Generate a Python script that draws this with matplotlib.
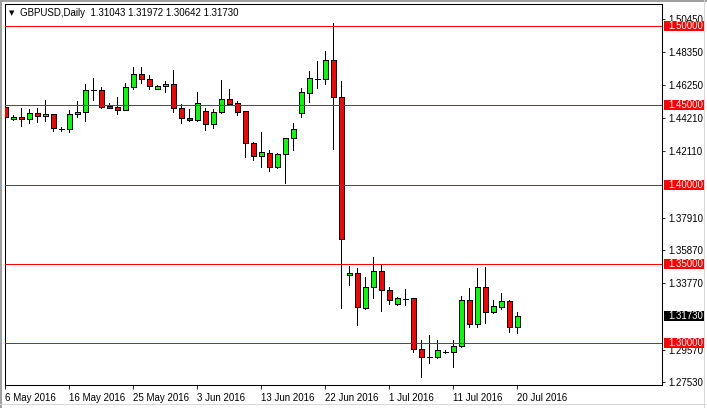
import matplotlib
matplotlib.use('Agg')
import matplotlib.pyplot as plt
from matplotlib.patches import Rectangle
import matplotlib.transforms as mtransforms
import pandas as pd

# ---------------- data ----------------
symbol_title = "GBPUSD,Daily  1.31043 1.31972 1.30642 1.31730"
# MT4 daily bars incl. Sunday bars (no Saturdays)
dates = [d for d in pd.date_range('2016-05-06', '2016-07-20') if d.weekday() != 5]

opens = [1.4489, 1.4412, 1.4424, 1.4412, 1.4450, 1.4433, 1.4445, 1.4350, 1.4351, 1.4443,
         1.4456, 1.4595, 1.4595, 1.4497, 1.4487, 1.4472, 1.4613, 1.4697, 1.4664, 1.4601,
         1.4622, 1.4634, 1.4481, 1.4420, 1.4407, 1.4462, 1.4385, 1.4455, 1.4538, 1.4513,
         1.4464, 1.4265, 1.4183, 1.4201, 1.4113, 1.4191, 1.4292, 1.4453, 1.4576, 1.4666,
         1.4664, 1.4784, 1.4555, 1.3428, 1.3441, 1.3220, 1.3352, 1.3453, 1.3335, 1.3245,
         1.3281, 1.3283, 1.2962, 1.2915, 1.2911, 1.2946, 1.2943, 1.2984, 1.3272, 1.3119,
         1.3352, 1.3195, 1.3230, 1.3266, 1.31043]
highs = [1.4544, 1.4439, 1.4481, 1.4475, 1.4485, 1.4533, 1.4448, 1.4361, 1.4470, 1.4527,
         1.4634, 1.4670, 1.4617, 1.4513, 1.4550, 1.4639, 1.4741, 1.4740, 1.4691, 1.4628,
         1.4653, 1.4723, 1.4508, 1.4478, 1.4584, 1.4481, 1.4475, 1.4660, 1.4601, 1.4525,
         1.4467, 1.4271, 1.4332, 1.4218, 1.4197, 1.4292, 1.4387, 1.4607, 1.4716, 1.4779,
         1.4842, 1.5017, 1.4653, 1.3485, 1.3472, 1.3419, 1.3542, 1.3499, 1.3352, 1.3289,
         1.3342, 1.3285, 1.3020, 1.3052, 1.3020, 1.2957, 1.3020, 1.3298, 1.3346, 1.3472,
         1.3482, 1.3272, 1.3318, 1.3272, 1.31972]
lows = [1.4412, 1.4407, 1.4371, 1.4387, 1.4393, 1.4401, 1.4340, 1.4338, 1.4330, 1.4428,
        1.4403, 1.4533, 1.4485, 1.4480, 1.4443, 1.4470, 1.4601, 1.4639, 1.4601, 1.4600,
        1.4586, 1.4460, 1.4388, 1.4398, 1.4401, 1.4346, 1.4355, 1.4450, 1.4505, 1.4442,
        1.4176, 1.4155, 1.4113, 1.4088, 1.4103, 1.4012, 1.4218, 1.4428, 1.4523, 1.4611,
        1.4634, 1.4225, 1.3224, 1.3364, 1.3115, 1.3216, 1.3287, 1.3203, 1.3245, 1.3241,
        1.3241, 1.2946, 1.2789, 1.2877, 1.2905, 1.2936, 1.2852, 1.2978, 1.3104, 1.3104,
        1.3129, 1.3189, 1.3214, 1.3073, 1.30642]
closes = [1.4424, 1.4424, 1.4412, 1.4450, 1.4433, 1.4445, 1.4359, 1.4350, 1.4443, 1.4456,
          1.4595, 1.4595, 1.4491, 1.4485, 1.4472, 1.4613, 1.4697, 1.4664, 1.4622, 1.4622,
          1.4634, 1.4481, 1.4418, 1.4406, 1.4513, 1.4385, 1.4456, 1.4538, 1.4509, 1.4460,
          1.4265, 1.4182, 1.4204, 1.4113, 1.4191, 1.4292, 1.4349, 1.4582, 1.4670, 1.4666,
          1.4784, 1.4555, 1.3655, 1.3441, 1.3226, 1.3352, 1.3453, 1.3335, 1.3272, 1.3283,
          1.3281, 1.2962, 1.2915, 1.2915, 1.2957, 1.2946, 1.2984, 1.3272, 1.3119, 1.3352,
          1.3195, 1.3235, 1.3266, 1.3104, 1.31730]

level_lines = [1.50, 1.45, 1.40, 1.35, 1.30]
y_tick_values = [1.50450, 1.48350, 1.46250, 1.44210, 1.42110, 1.37910,
                 1.35870, 1.33770, 1.29570, 1.27530]
x_label_every = 8
current_price = closes[-1]

# ---------------- figure ----------------
W, H = 707, 408
fig = plt.figure(figsize=(W / 100, H / 100), dpi=100)
fig.patch.set_facecolor('white')
ax = fig.add_axes([5 / W, 23 / H, 657 / W, 381 / H])
ax.set_facecolor('white')

FONT = ['Liberation Sans', 'DejaVu Sans']
FS = 7
LW = 0.6

body_w = 0.56
for i, (o, h, l, c) in enumerate(zip(opens, highs, lows, closes)):
    ax.vlines(i, l, h, color='black', lw=LW, zorder=2, antialiased=False)
    bottom = min(o, c)
    height = abs(c - o)
    col = '#00ff00' if c > o else ('#ff0000' if c < o else 'black')
    ax.add_patch(Rectangle((i - body_w / 2, bottom), body_w, height,
                           facecolor=col, edgecolor='black', lw=LW,
                           zorder=3, antialiased=False))

for lv in level_lines:
    ax.axhline(lv, color='#ff0000', lw=0.72, zorder=4, antialiased=True, snap=True)

ax.set_xlim(-0.04, 82.09)
ax.set_ylim(1.2736, 1.5139)

# y axis on right
ax.yaxis.tick_right()
ax.set_yticks(y_tick_values)
ax.set_yticklabels([f"{v:.5f}" for v in y_tick_values], fontsize=FS, family=FONT)
ax.tick_params(axis='y', direction='out', length=2.2, width=LW, pad=2.2, colors='black')

# x axis ticks
xt = list(range(0, len(dates), x_label_every))
ax.set_xticks(xt)
ax.set_xticklabels([f"{dates[i].day} {dates[i].strftime('%b %Y')}" for i in xt],
                   fontsize=FS, family=FONT, ha='left')
ax.tick_params(axis='x', direction='out', length=3, width=LW, pad=2.5, colors='black')

for sp in ax.spines.values():
    sp.set_linewidth(0.75)
    sp.set_color('black')

# level labels on the right
trans = mtransforms.blended_transform_factory(ax.transAxes, ax.transData)
px = 1 / 657.0
box_x0 = 1 + 2 * px
box_w = 41 * px
box_h = 10 * 0.0006305
for lv in level_lines:
    ax.add_patch(Rectangle((box_x0, lv - box_h / 2), box_w, box_h, transform=trans,
                           facecolor='#ff0000', edgecolor='none', clip_on=False, zorder=5))
    ax.text(1 + 6 * px, lv, f"{lv:.5f}", transform=trans, color='white', fontsize=FS,
            family=FONT, va='center', ha='left', clip_on=False, zorder=6)
ax.add_patch(Rectangle((box_x0, current_price - box_h / 2), box_w, box_h, transform=trans,
                       facecolor='black', edgecolor='none', clip_on=False, zorder=5))
ax.text(1 + 6 * px, current_price, f"{current_price:.5f}", transform=trans, color='white',
        fontsize=FS, family=FONT, va='center', ha='left', clip_on=False, zorder=6)

# title
fig.text(12 / W, 1 - 12.7 / H, "\u25bc", fontsize=5, family=['DejaVu Sans'],
         ha='center', va='center', color='black')
fig.text(20.5 / W, 1 - 12.7 / H, symbol_title, fontsize=FS, family=FONT,
         ha='left', va='center', color='black')

# window border
fig.patches.append(Rectangle((0, 0), 2 / W, 1, transform=fig.transFigure,
                             facecolor='#a0a0a0', edgecolor='none'))
fig.patches.append(Rectangle((0, 1 - 1.5 / H), 1, 1.5 / H, transform=fig.transFigure,
                             facecolor='#a0a0a0', edgecolor='none'))
fig.patches.append(Rectangle((0, 3 / H), 1, 1 / H, transform=fig.transFigure,
                             facecolor='#d8d8d8', edgecolor='none'))
fig.patches.append(Rectangle((704 / W, 0), 1 / W, 1, transform=fig.transFigure,
                             facecolor='#d8d8d8', edgecolor='none'))

fig.savefig('out.png', dpi=100)
